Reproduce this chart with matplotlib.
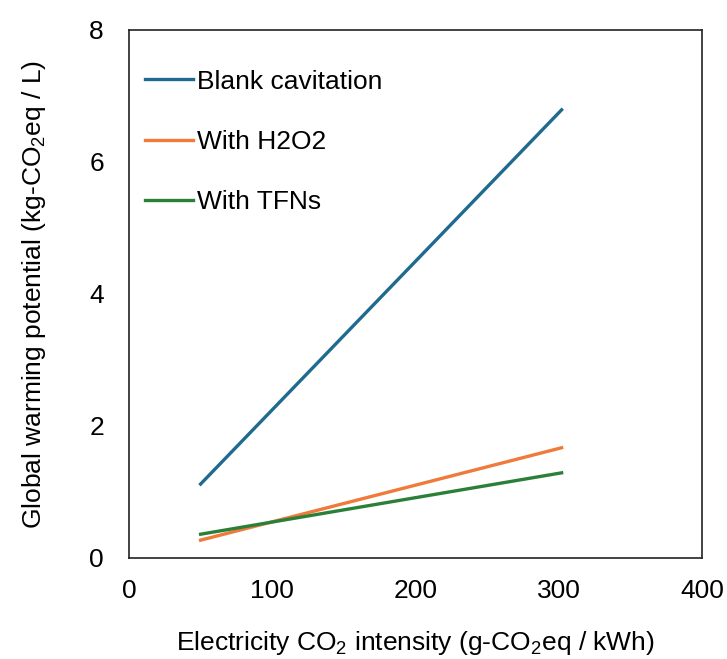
import matplotlib
matplotlib.use('Agg')
import matplotlib.pyplot as plt

plt.rcParams['font.family'] = ['Liberation Sans', 'DejaVu Sans']
plt.rcParams['mathtext.fontset'] = 'custom'
plt.rcParams['mathtext.rm'] = 'Liberation Sans'
plt.rcParams['mathtext.it'] = 'Liberation Sans:italic'

# data
intensity = [50, 302]
blank = [1.12, 6.79]
h2o2 = [0.27, 1.67]
tfns = [0.36, 1.29]

names = ['Blank cavitation', 'With H2O2', 'With TFNs']
colors = ['#1F6A8E', '#F07A3A', '#2A8038']

fig = plt.figure(figsize=(7.27, 6.59), dpi=100)
ax = fig.add_axes([0.1774, 0.1533, 0.7882, 0.8012])

for vals, name, c in zip([blank, h2o2, tfns], names, colors):
    ax.plot(intensity, vals, color=c, lw=2.4, label=name)

ax.set_xlim(0, 400)
ax.set_ylim(0, 8)
ax.set_xticks([0, 100, 200, 300, 400])
ax.set_yticks([0, 2, 4, 6, 8])
ax.tick_params(length=0, labelsize=19, pad=15)
ax.tick_params(axis='y', pad=18)
for s in ax.spines.values():
    s.set_color('#222222')
    s.set_linewidth(1.2)

ax.set_xlabel(r'Electricity CO$_\mathregular{2}$ intensity (g-CO$_\mathregular{2}$eq / kWh)',
              fontsize=19, labelpad=19)
ax.set_ylabel(r'Global warming potential (kg-CO$_\mathregular{2}$eq / L)',
              fontsize=19, labelpad=30)

ax.legend(loc='upper left', frameon=False, fontsize=19, handlelength=1.8,
          handletextpad=0.15, labelspacing=1.38, borderaxespad=0.0,
          bbox_to_anchor=(0.01, 0.945))

fig.savefig('out.png', dpi=100)
